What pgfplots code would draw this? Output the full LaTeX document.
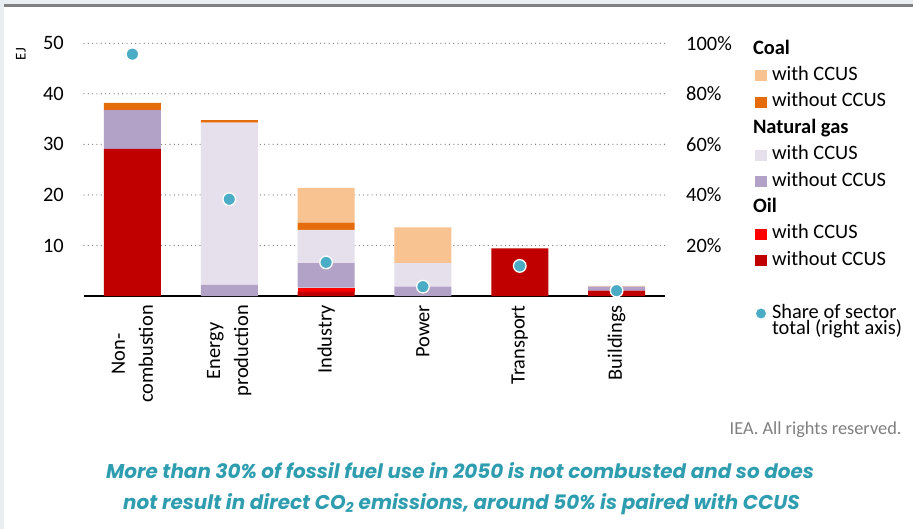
\documentclass[border=0pt]{standalone}
\usepackage{fontspec}
\setmainfont{Carlito}
\newfontfamily\capfont{Poppins}
\usepackage{pgfplots}
\pgfplotsset{compat=1.18}
\definecolor{coalccs}{HTML}{F8C391}
\definecolor{coalno}{HTML}{E46C0A}
\definecolor{gasccs}{HTML}{E6DFEC}
\definecolor{gasno}{HTML}{B2A2C7}
\definecolor{oilccs}{HTML}{FF0000}
\definecolor{oilno}{HTML}{C00000}
\definecolor{dotc}{HTML}{4BACC6}
\definecolor{capc}{HTML}{2E9DB0}
\definecolor{gridc}{HTML}{808080}
\definecolor{framebg}{HTML}{E9EEF2}
\definecolor{iea}{HTML}{7F7F7F}
\pgfplotsset{
  sw/.style={fill=#1, draw=none,
    legend image code/.code={\fill[#1] (0bp,-5.5bp) rectangle (12bp,5.5bp);}},
}
\newcommand{\lf}{\fontsize{20.5}{24}\selectfont}
\begin{document}
\begin{tikzpicture}
\path[use as bounding box] (0,0) rectangle (913bp,-529bp);
\fill[framebg] (0,0) rectangle (913bp,-529bp);
\fill[white] (4bp,-6.5bp) rectangle (913bp,-529bp);
\fill[gridc] (3.5bp,-4.3bp) rectangle (913bp,-6.7bp);

\begin{axis}[
  at={(84bp,-296bp)}, anchor=south west,
  scale only axis, width=581bp, height=252.7bp,
  xmin=-0.5, xmax=5.5, ymin=0, ymax=50,
  ybar stacked, bar width=57bp,
  xtick={0,1,2,3,4,5},
  xticklabels={Non-\\combustion, Energy\\production, Industry, Power, Transport, Buildings},
  ytick={10,20,30,40,50},
  /pgf/number format/assume math mode=true,
  yticklabel={\pgfmathprintnumber{\tick}},
  axis x line*=bottom, axis y line*=left,
  x axis line style={black, line width=1.3bp, -},
  y axis line style={draw=none},
  xtick style={draw=none}, ytick style={draw=none},
  ymajorgrids,
  major grid style={gridc, line width=1.3bp, dash pattern=on 0bp off 4.3bp, line cap=round},
  tick label style={font=\lf, text=black},
  yticklabel style={anchor=east, inner sep=0pt, xshift=-20bp},
  xticklabel style={yshift=-9bp, rotate=90, anchor=east, align=center, inner sep=0pt,
    font=\fontsize{20.5}{28}\selectfont},
  reverse legend,
  legend cell align=left,
  legend style={at={(1.1549,1.0150)}, anchor=north west, draw=none, fill=none,
    inner sep=0pt, outer sep=0pt, row sep=6.4bp, column sep=5bp, font=\lf,
    nodes={inner sep=0pt, text height=14.5bp, text depth=5.5bp}},
]
\addlegendimage{legend image code/.code={\fill[dotc] (6bp,0bp) circle (4.7bp);}}
\addlegendentry{\vtop{\baselineskip=16.5bp\hbox{Share of sector}\hbox{total (right axis)}}}
\addlegendimage{empty legend}
\addlegendentry{\mbox{}}
% Oil without CCUS
\addplot[sw=oilno] coordinates {(0,29.1) (1,0) (2,0.85) (3,0) (4,9.4) (5,1.05)};
\addlegendentry{without CCUS}
% Oil with CCUS
\addplot[sw=oilccs] coordinates {(0,0) (1,0) (2,0.8) (3,0) (4,0) (5,0)};
\addlegendentry{with CCUS}
\addlegendimage{empty legend}
\addlegendentry{\hspace*{-19bp}\textbf{Oil}}
% Natural gas without CCUS
\addplot[sw=gasno] coordinates {(0,7.7) (1,2.2) (2,4.85) (3,1.85) (4,0) (5,0.8)};
\addlegendentry{without CCUS}
% Natural gas with CCUS
\addplot[sw=gasccs] coordinates {(0,0) (1,32.1) (2,6.6) (3,4.65) (4,0) (5,0)};
\addlegendentry{with CCUS}
\addlegendimage{empty legend}
\addlegendentry{\hspace*{-19bp}\textbf{Natural gas}}
% Coal without CCUS
\addplot[sw=coalno] coordinates {(0,1.4) (1,0.5) (2,1.4) (3,0) (4,0) (5,0)};
\addlegendentry{without CCUS}
% Coal with CCUS
\addplot[sw=coalccs] coordinates {(0,0) (1,0) (2,6.9) (3,7.1) (4,0) (5,0.15)};
\addlegendentry{with CCUS}
\addlegendimage{empty legend}
\addlegendentry{\hspace*{-19bp}\textbf{Coal}}
\end{axis}

\begin{axis}[
  at={(84bp,-296bp)}, anchor=south west,
  scale only axis, width=581bp, height=252.7bp,
  xmin=-0.5, xmax=5.5, ymin=0, ymax=100,
  axis x line=none, axis y line*=right,
  y axis line style={draw=none}, ytick style={draw=none},
  ytick={20,40,60,80,100},
  /pgf/number format/assume math mode=true,
  yticklabel={\pgfmathprintnumber{\tick}\%},
  yticklabel style={anchor=west, inner sep=0pt, xshift=21bp, font=\lf, text=black},
  clip=false,
]
\addplot[only marks, mark=*, mark size=6.3bp,
  mark options={fill=dotc, draw=white, line width=1.3bp}]
  coordinates {(0,95.7) (1,38.3) (2,13.3) (3,3.7) (4,11.9) (5,2.1)};
\end{axis}

\node[rotate=90, font=\fontsize{15}{18}\selectfont] at (21bp,-54bp) {EJ};
\node[anchor=base east, text=iea, font=\fontsize{18.4}{22}\selectfont] at (905bp,-434bp) {IEA. All rights reserved.};
\node[anchor=base, text=capc, font=\capfont\bfseries\itshape\fontsize{20}{24}\selectfont] at (460bp,-478bp)
  {More than 30\% of fossil fuel use in 2050 is not combusted and so does};
\node[anchor=base, text=capc, font=\capfont\bfseries\itshape\fontsize{20}{24}\selectfont] at (461.5bp,-509bp)
  {not result in direct CO\textsubscript{2} emissions, around 50\% is paired with CCUS};
\end{tikzpicture}
\end{document}
